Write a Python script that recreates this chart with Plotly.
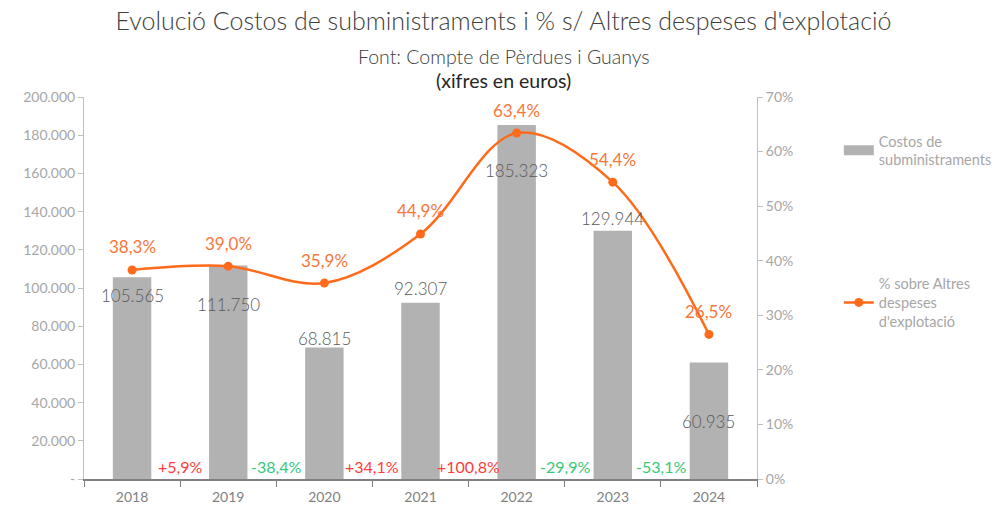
"""
Costos de subministraments (bars) and % over other operating expenses (line).
"""
import plotly.graph_objects as go

years = ["2018", "2019", "2020", "2021", "2022", "2023", "2024"]
costos = [105565, 111750, 68815, 92307, 185323, 129944, 60935]
pct_altres = [38.3, 39.0, 35.9, 44.9, 63.4, 54.4, 26.5]
variacio = [5.9, -38.4, 34.1, 100.8, -29.9, -53.1]

left_ticks = [0, 20000, 40000, 60000, 80000, 100000, 120000, 140000, 160000, 180000, 200000]
left_labels = ["-"] + [f"{v:,}".replace(",", ".") for v in left_ticks[1:]]
right_ticks = [0, 10, 20, 30, 40, 50, 60, 70]
right_labels = [f"{v}%" for v in right_ticks]

# label offsets (px) relative to bar top, as placed by hand in the original
bar_label_shift = [-18, -39, 9, 14, -45, 12, -59]

FONT = "Lato"
BAR = "#b2b2b2"
ORANGE = "#ff6b1a"
GRAY_TXT = "#a6a6a6"


def fmt_num(v):
    return f"{v:,}".replace(",", ".")


def fmt_pct(v, sign=False):
    s = f"{v:+.1f}" if sign else f"{v:.1f}"
    return s.replace(".", ",") + "%"


fig = go.Figure()
fig.add_trace(
    go.Bar(
        x=years,
        y=costos,
        width=0.4,
        marker=dict(color=BAR, line=dict(width=0)),
        showlegend=False,
        hoverinfo="skip",
    )
)
# wide grey swatch for the legend, like the original
fig.add_trace(
    go.Scatter(
        x=[None], y=[None], mode="lines",
        line=dict(color=BAR, width=10),
        name="Costos de<br>subministraments",
        legendgroup="a",
    )
)
fig.add_trace(
    go.Scatter(
        x=years,
        y=pct_altres,
        yaxis="y2",
        mode="lines+markers",
        line=dict(color=ORANGE, width=2.5, shape="spline", smoothing=1),
        marker=dict(color=ORANGE, size=9),
        name="% sobre Altres<br>despeses<br>d'explotació",
        legendgroup="b",
        hoverinfo="skip",
    )
)

for i, v in enumerate(costos):
    fig.add_annotation(
        x=i, y=v, yshift=bar_label_shift[i], text=fmt_num(v), showarrow=False,
        font=dict(family=FONT, size=17, color="#595959", weight=300), yanchor="middle",
    )

for i, v in enumerate(pct_altres):
    fig.add_annotation(
        x=i, y=v, yref="y2", yshift=23, text=fmt_pct(v), showarrow=False,
        font=dict(family=FONT, size=17, color="#f7763a"), yanchor="middle",
    )

for i, v in enumerate(variacio):
    fig.add_annotation(
        x=i + 0.5, y=0, yanchor="bottom", yshift=1, text=fmt_pct(v, sign=True),
        showarrow=False,
        font=dict(family=FONT, size=16, color="#ff3b3b" if v > 0 else "#35c97a"),
    )

fig.update_layout(
    width=1007,
    height=508,
    margin=dict(l=84, r=250, t=97, b=29),
    paper_bgcolor="white",
    plot_bgcolor="white",
    font=dict(family=FONT, color=GRAY_TXT),
    title=dict(
        text="Evolució Costos de subministraments i % s/ Altres despeses d'explotació",
        font=dict(family=FONT, size=25, color="#404040", weight=300),
        x=0.5, xanchor="center", y=0.975, yanchor="top",
    ),
    showlegend=True,
    legend=dict(
        xref="container", yref="container",
        x=0.833, y=0.754, xanchor="left", yanchor="top",
        font=dict(family=FONT, size=14.5, color=GRAY_TXT),
        tracegroupgap=102,
        bgcolor="rgba(0,0,0,0)",
    ),
    xaxis=dict(
        type="category",
        showline=True, linecolor="#808080", linewidth=1.5,
        ticks="outside", tickson="boundaries", ticklen=6, tickcolor="#808080",
        tickfont=dict(family=FONT, size=14, color="#7f7f7f"),
        ticklabelstandoff=4,
        showgrid=False, automargin=False,
        range=[-0.5, 6.5],
    ),
    yaxis=dict(
        range=[0, 200000],
        tickvals=left_ticks, ticktext=left_labels,
        showline=True, linecolor="#bfbfbf", linewidth=1,
        ticks="outside", ticklen=5, tickcolor="#bfbfbf",
        tickfont=dict(family=FONT, size=14, color=GRAY_TXT),
        showgrid=False, zeroline=False, automargin=False,
    ),
    yaxis2=dict(
        overlaying="y", side="right",
        range=[0, 70],
        tickvals=right_ticks, ticktext=right_labels,
        showline=True, linecolor="#bfbfbf", linewidth=1,
        ticks="outside", ticklen=5, tickcolor="#bfbfbf",
        tickfont=dict(family=FONT, size=14, color=GRAY_TXT),
        showgrid=False, zeroline=False, automargin=False,
    ),
)

# centre of the page, expressed in plot-area fraction
page_mid = (1007 / 2 - 84) / (1007 - 84 - 250)
fig.add_annotation(
    text="Font: Compte de Pèrdues i Guanys", xref="paper", yref="paper",
    x=page_mid, y=1.0, yshift=41, showarrow=False, yanchor="middle",
    font=dict(family=FONT, size=19.5, color="#404040", weight=300),
)
fig.add_annotation(
    text="(xifres en euros)", xref="paper", yref="paper",
    x=page_mid, y=1.0, yshift=17, showarrow=False, yanchor="middle",
    font=dict(family=FONT, size=19.5, color="#262626"),
)

# drop the browser's default body margin so the figure sits at the window corner
fig.write_html(
    "out.html",
    config={"displayModeBar": False},
    post_script="document.body.style.margin = '0';",
)
